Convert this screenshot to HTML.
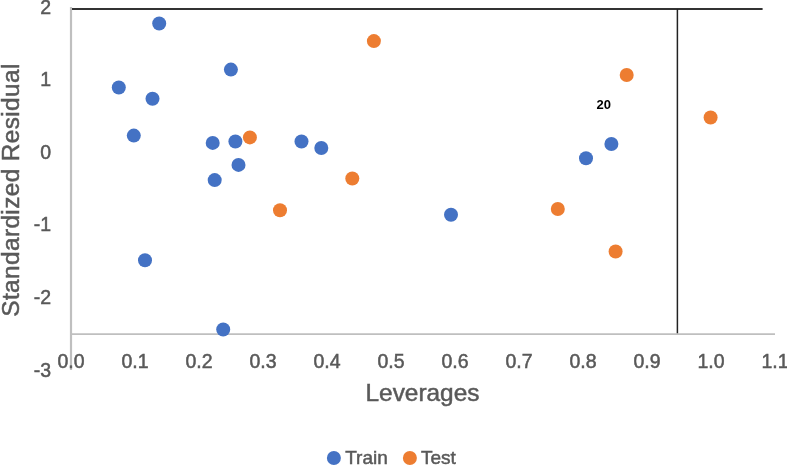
<!DOCTYPE html>
<html><head><meta charset="utf-8"><style>
html,body{margin:0;padding:0;background:#fff;}
body{width:787px;height:465px;overflow:hidden;}
svg{display:block;will-change:transform;font-family:"Liberation Sans", sans-serif;}
</style></head><body>
<svg width="787" height="465" viewBox="0 0 787 465">
<line x1="71" y1="7" x2="71" y2="370" stroke="#BFBFBF" stroke-width="2.2"/>
<line x1="70" y1="334.1" x2="775" y2="334.1" stroke="#BFBFBF" stroke-width="1.9"/>
<line x1="72" y1="9" x2="762.6" y2="9" stroke="#333" stroke-width="2"/>
<line x1="677.4" y1="9" x2="677.4" y2="333.2" stroke="#222" stroke-width="1.5"/>
<circle cx="159.2" cy="23.5" r="7.0" fill="#4472C4"/>
<circle cx="118.8" cy="87.5" r="7.0" fill="#4472C4"/>
<circle cx="152.5" cy="98.8" r="7.0" fill="#4472C4"/>
<circle cx="230.9" cy="69.6" r="7.0" fill="#4472C4"/>
<circle cx="133.8" cy="135.6" r="7.0" fill="#4472C4"/>
<circle cx="212.7" cy="142.9" r="7.0" fill="#4472C4"/>
<circle cx="235.4" cy="141.5" r="7.0" fill="#4472C4"/>
<circle cx="238.5" cy="164.9" r="7.0" fill="#4472C4"/>
<circle cx="214.7" cy="180.1" r="7.0" fill="#4472C4"/>
<circle cx="145" cy="260.2" r="7.0" fill="#4472C4"/>
<circle cx="223.2" cy="329.5" r="7.0" fill="#4472C4"/>
<circle cx="301.5" cy="141.5" r="7.0" fill="#4472C4"/>
<circle cx="321.3" cy="148" r="7.0" fill="#4472C4"/>
<circle cx="451" cy="214.8" r="7.0" fill="#4472C4"/>
<circle cx="586" cy="158.3" r="7.0" fill="#4472C4"/>
<circle cx="611.4" cy="144" r="7.0" fill="#4472C4"/>
<circle cx="373.9" cy="41.1" r="7.0" fill="#ED7D31"/>
<circle cx="249.9" cy="137.4" r="7.0" fill="#ED7D31"/>
<circle cx="352.3" cy="178.5" r="7.0" fill="#ED7D31"/>
<circle cx="280" cy="210.3" r="7.0" fill="#ED7D31"/>
<circle cx="626.7" cy="75" r="7.0" fill="#ED7D31"/>
<circle cx="710.6" cy="117.5" r="7.0" fill="#ED7D31"/>
<circle cx="557.8" cy="209" r="7.0" fill="#ED7D31"/>
<circle cx="615.6" cy="251.5" r="7.0" fill="#ED7D31"/>
<text x="51.1" y="13.6" text-anchor="end" font-size="19.5" fill="#595959" stroke="#595959" stroke-width="0.5">2</text>
<text x="51.1" y="86.2" text-anchor="end" font-size="19.5" fill="#595959" stroke="#595959" stroke-width="0.5">1</text>
<text x="51.1" y="158.8" text-anchor="end" font-size="19.5" fill="#595959" stroke="#595959" stroke-width="0.5">0</text>
<text x="51.1" y="231.4" text-anchor="end" font-size="19.5" fill="#595959" stroke="#595959" stroke-width="0.5">-1</text>
<text x="51.1" y="304.0" text-anchor="end" font-size="19.5" fill="#595959" stroke="#595959" stroke-width="0.5">-2</text>
<text x="51.1" y="376.6" text-anchor="end" font-size="19.5" fill="#595959" stroke="#595959" stroke-width="0.5">-3</text>
<text x="71.0" y="368.2" text-anchor="middle" font-size="19.5" fill="#595959" stroke="#595959" stroke-width="0.5">0.0</text>
<text x="135.0" y="368.2" text-anchor="middle" font-size="19.5" fill="#595959" stroke="#595959" stroke-width="0.5">0.1</text>
<text x="199.0" y="368.2" text-anchor="middle" font-size="19.5" fill="#595959" stroke="#595959" stroke-width="0.5">0.2</text>
<text x="263.0" y="368.2" text-anchor="middle" font-size="19.5" fill="#595959" stroke="#595959" stroke-width="0.5">0.3</text>
<text x="327.0" y="368.2" text-anchor="middle" font-size="19.5" fill="#595959" stroke="#595959" stroke-width="0.5">0.4</text>
<text x="391.0" y="368.2" text-anchor="middle" font-size="19.5" fill="#595959" stroke="#595959" stroke-width="0.5">0.5</text>
<text x="455.0" y="368.2" text-anchor="middle" font-size="19.5" fill="#595959" stroke="#595959" stroke-width="0.5">0.6</text>
<text x="519.0" y="368.2" text-anchor="middle" font-size="19.5" fill="#595959" stroke="#595959" stroke-width="0.5">0.7</text>
<text x="583.0" y="368.2" text-anchor="middle" font-size="19.5" fill="#595959" stroke="#595959" stroke-width="0.5">0.8</text>
<text x="647.0" y="368.2" text-anchor="middle" font-size="19.5" fill="#595959" stroke="#595959" stroke-width="0.5">0.9</text>
<text x="711.0" y="368.2" text-anchor="middle" font-size="19.5" fill="#595959" stroke="#595959" stroke-width="0.5">1.0</text>
<text x="775.0" y="368.2" text-anchor="middle" font-size="19.5" fill="#595959" stroke="#595959" stroke-width="0.5">1.1</text>
<text x="422.5" y="400.6" text-anchor="middle" font-size="24.4" fill="#595959" stroke="#595959" stroke-width="0.5">Leverages</text>
<text transform="translate(19.4,190) rotate(-90)" x="0" y="0" text-anchor="middle" font-size="24.4" letter-spacing="0.38" fill="#595959" stroke="#595959" stroke-width="0.5">Standardized Residual</text>
<text x="603.8" y="108.9" text-anchor="middle" font-size="13" font-weight="bold" fill="#000">20</text>
<circle cx="333.9" cy="458" r="7" fill="#4472C4"/>
<text x="345.2" y="464.4" font-size="19" fill="#595959" stroke="#595959" stroke-width="0.5">Train</text>
<circle cx="409.9" cy="458" r="7" fill="#ED7D31"/>
<text x="421" y="464.4" font-size="19" fill="#595959" stroke="#595959" stroke-width="0.5">Test</text>
</svg>
</body></html>
